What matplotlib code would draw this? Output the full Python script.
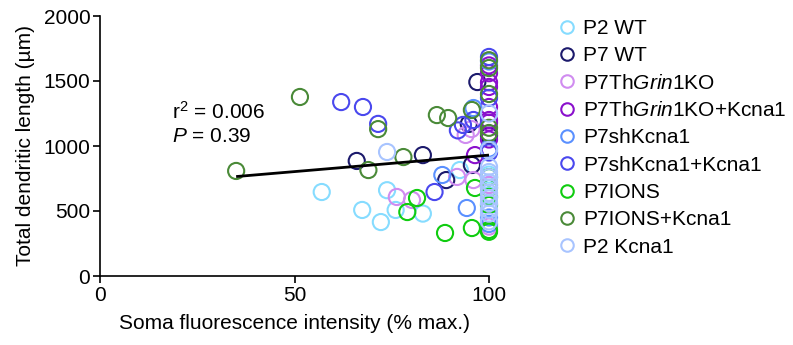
import matplotlib
matplotlib.use("Agg")
import matplotlib.pyplot as plt
from matplotlib.lines import Line2D

plt.rcParams['font.family'] = ['Liberation Sans', 'DejaVu Sans']
plt.rcParams['mathtext.fontset'] = 'custom'
plt.rcParams['mathtext.rm'] = 'Liberation Sans'
plt.rcParams['mathtext.it'] = 'Liberation Sans:italic'

groups = ['P2 WT', 'P7 WT', r'P7Th$\mathit{Grin1}$KO', r'P7Th$\mathit{Grin1}$KO+Kcna1',
          'P7shKcna1', 'P7shKcna1+Kcna1', 'P7IONS', 'P7IONS+Kcna1', 'P2 Kcna1']
colors = ['#86dcff', '#1c1a6c', '#d08cf0', '#8a10cc', '#5a90ff',
          '#4a48ee', '#10cc10', '#4a8a38', '#a8c4ff']

p2wt_x = [57, 73.8, 67.4, 72.2, 76, 83, 92.5, 100, 100, 100]
p2wt_y = [646, 660, 508, 415, 508, 480, 815, 780, 700, 620]
p7wt_x = [66, 83, 89, 95.6, 97, 94.8, 100]
p7wt_y = [885, 930, 738, 854, 1492, 1170, 1080]
ko_x = [76.3, 80.2, 91.8, 96, 94, 95.5, 100, 100]
ko_y = [608, 585, 762, 738, 1085, 1130, 380, 700]
kok_x = [100, 100, 100, 100, 100, 100, 96.4, 100, 100]
kok_y = [1620, 1560, 1490, 1454, 1200, 1050, 930, 1300, 1180]
sh_x = [88, 94.3, 100, 100, 96, 100, 100]
sh_y = [777, 523, 450, 980, 1292, 1650, 400]
shk_x = [62, 67.6, 71.5, 86, 93.3, 96, 100, 100, 100, 92]
shk_y = [1338, 1300, 1170, 646, 1162, 1200, 1685, 1370, 950, 1120]
ions_x = [79, 81.5, 88.7, 95.6, 96.4, 100, 100, 100, 100, 100, 100]
ions_y = [492, 600, 331, 369, 677, 760, 677, 608, 546, 354, 340]
ionsk_x = [35, 51.4, 71.5, 69, 78, 86.6, 89.5, 95.6, 100, 100, 100, 100, 100]
ionsk_y = [808, 1377, 1130, 815, 915, 1238, 1215, 1277, 1660, 1400, 1140, 1100, 1600]
p2k_x = [73.8, 100, 100, 100, 100, 100, 100, 100, 100, 100, 100, 100, 100, 100]
p2k_y = [954, 1250, 970, 840, 800, 760, 720, 680, 640, 600, 560, 510, 480, 420]

xs = [p2wt_x, p7wt_x, ko_x, kok_x, sh_x, shk_x, ions_x, ionsk_x, p2k_x]
ys = [p2wt_y, p7wt_y, ko_y, kok_y, sh_y, shk_y, ions_y, ionsk_y, p2k_y]

fit_x = [35, 100]
fit_y = [765, 930]

FS = 15

fig = plt.figure(figsize=(7.93, 3.45), dpi=100)
ax = fig.add_axes([100/793, 1-276/345, 389/793, 260/345])

for x, y, c in zip(xs, ys, colors):
    ax.scatter(x, y, s=135, facecolors='none', edgecolors=c, linewidths=1.5,
               clip_on=False, zorder=2)
ax.plot(fit_x, fit_y, color='black', lw=2, zorder=3, solid_capstyle='butt')

ax.set_xlim(0, 100)
ax.set_ylim(0, 2000)
ax.set_xticks([0, 50, 100])
ax.set_yticks([0, 500, 1000, 1500, 2000])
for s in ['top', 'right']:
    ax.spines[s].set_visible(False)
for s in ['left', 'bottom']:
    ax.spines[s].set_linewidth(1.2)
ax.tick_params(direction='out', length=5, width=1.2, labelsize=FS, pad=2)
ax.set_xlabel('Soma fluorescence intensity (% max.)', fontsize=FS, labelpad=7)
ax.set_ylabel('Total dendritic length (\u00b5m)', fontsize=FS, labelpad=6)

ax.text(18.5, 1265, r'r$^2$ = 0.006', fontsize=FS, va='center')
ax.text(18.5, 1070, r'$P$ = 0.39', fontsize=FS, va='center')

handles = [Line2D([], [], marker='o', ls='none', mfc='none', mec=c, mew=1.5, ms=9)
           for c in colors]
fig.legend(handles, groups, loc='upper left', bbox_to_anchor=(560/793, 1-19/345),
           frameon=False, fontsize=FS, handlelength=0.7, handletextpad=0.4,
           labelspacing=0.4, borderpad=0, borderaxespad=0)

fig.savefig('out.png', dpi=100)
